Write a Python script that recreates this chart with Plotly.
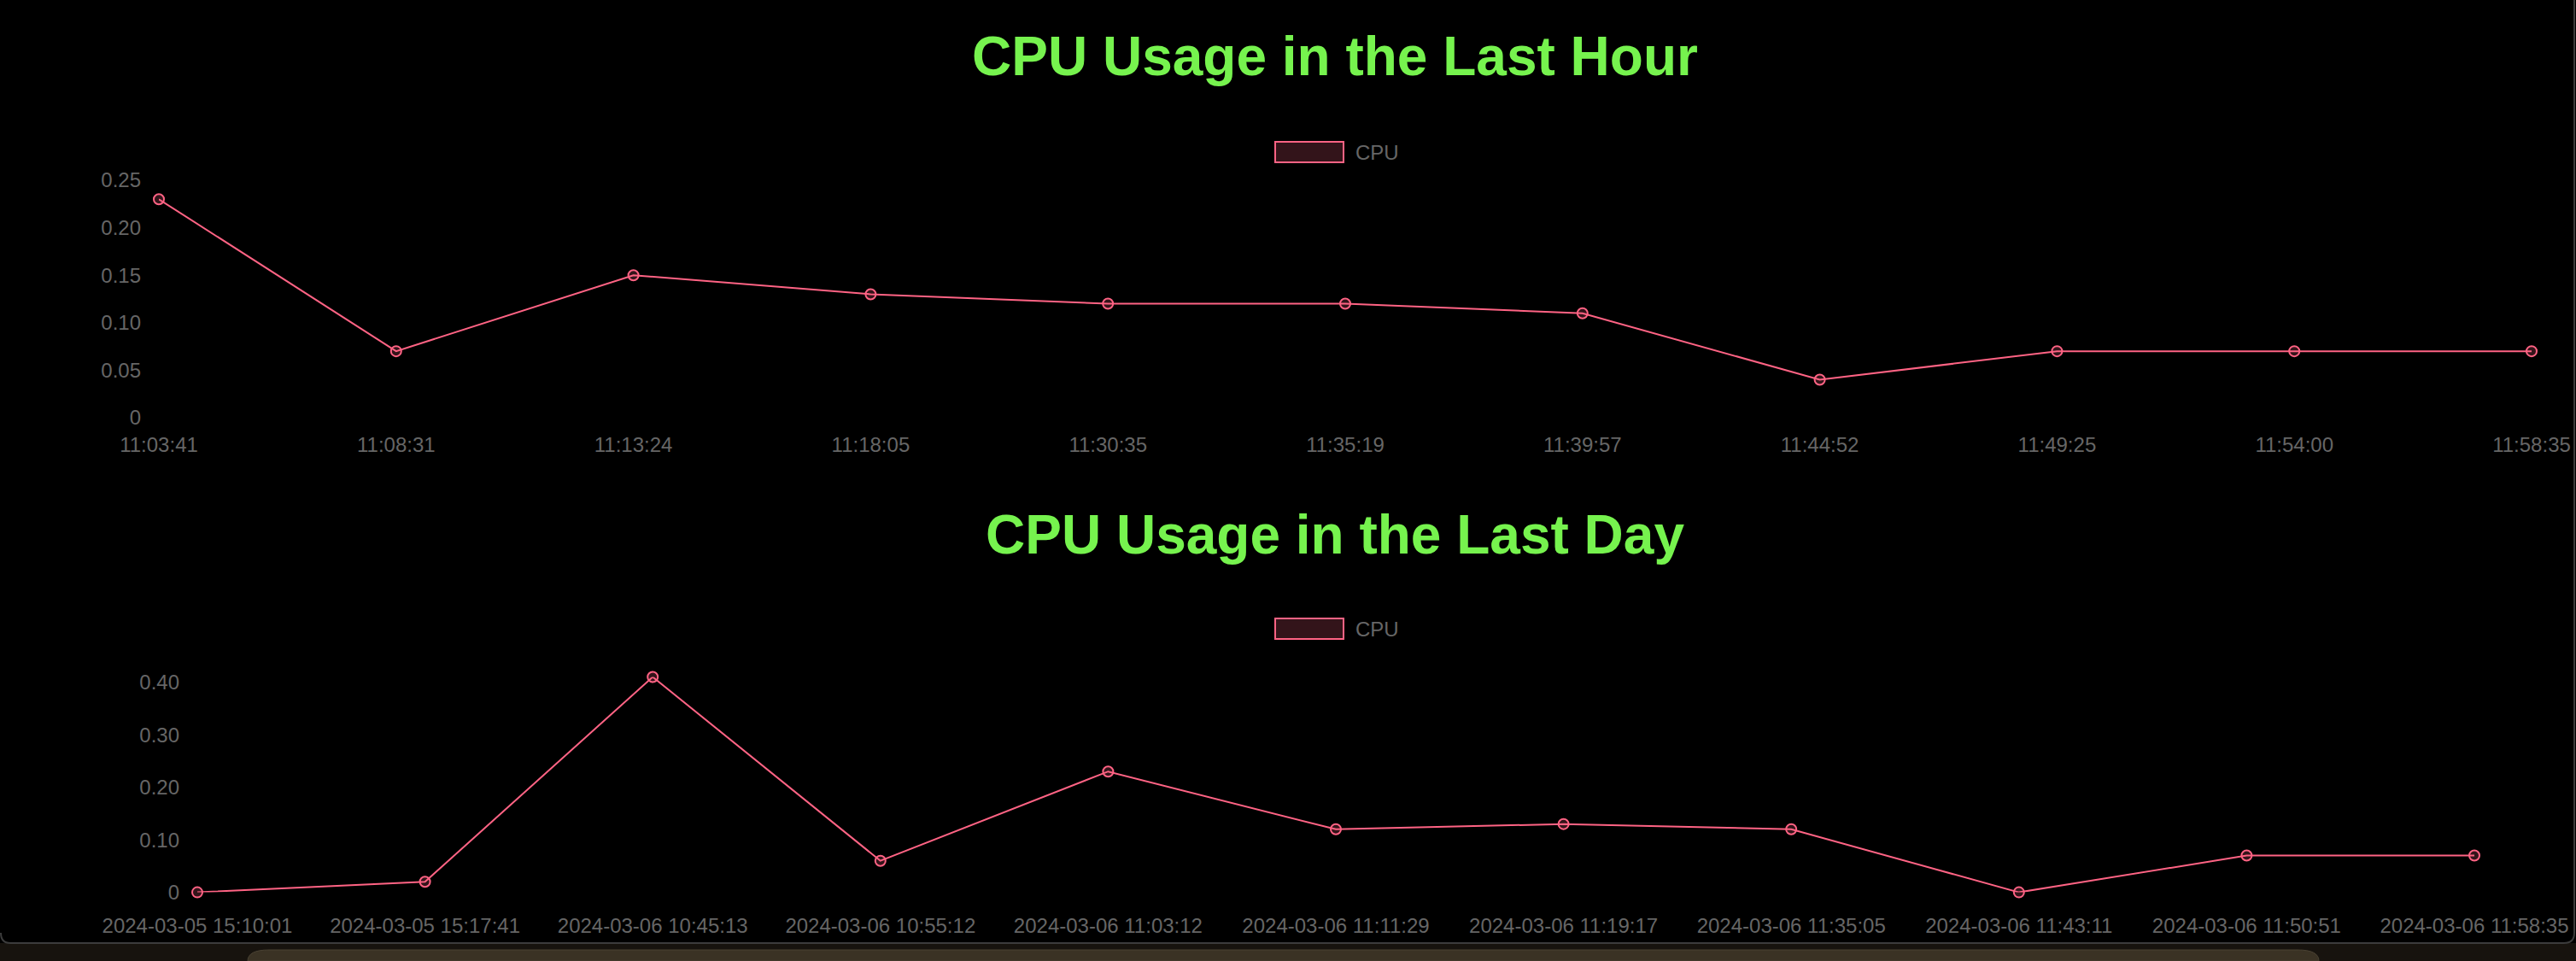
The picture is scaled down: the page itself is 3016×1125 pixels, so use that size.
import plotly.graph_objects as go

# ---------------- data ----------------
hour_labels = ["11:03:41", "11:08:31", "11:13:24", "11:18:05", "11:30:35", "11:35:19",
               "11:39:57", "11:44:52", "11:49:25", "11:54:00", "11:58:35"]
hour_cpu = [0.23, 0.07, 0.15, 0.13, 0.12, 0.12, 0.11, 0.04, 0.07, 0.07, 0.07]
hour_yticks = [0, 0.05, 0.10, 0.15, 0.20, 0.25]
hour_yticktext = ["0", "0.05", "0.10", "0.15", "0.20", "0.25"]

day_labels = ["2024-03-05 15:10:01", "2024-03-05 15:17:41", "2024-03-06 10:45:13",
              "2024-03-06 10:55:12", "2024-03-06 11:03:12", "2024-03-06 11:11:29",
              "2024-03-06 11:19:17", "2024-03-06 11:35:05", "2024-03-06 11:43:11",
              "2024-03-06 11:50:51", "2024-03-06 11:58:35"]
day_cpu = [0.0, 0.02, 0.41, 0.06, 0.23, 0.12, 0.13, 0.12, 0.0, 0.07, 0.07]
day_yticks = [0, 0.1, 0.2, 0.3, 0.4]
day_yticktext = ["0", "0.10", "0.20", "0.30", "0.40"]

series_name = "CPU"
titles = ["CPU Usage in the Last Hour", "CPU Usage in the Last Day"]

# ---------------- geometry helpers ----------------
W, H = 3016, 1125
def px(x):
    return x / W
def py(y):
    return 1 - y / H

LINE = "rgb(255,99,132)"
FILL = "rgba(255,99,132,0.2)"
TICK = "#666666"
GREEN = "#76F34E"
FONT = "Liberation Sans, Arial, Helvetica, sans-serif"

fig = go.Figure()

fig.add_trace(go.Scatter(
    x=hour_labels, y=hour_cpu, name=series_name, mode="lines+markers",
    line=dict(color=LINE, width=2),
    marker=dict(size=12, color=FILL, line=dict(color=LINE, width=2)),
    xaxis="x", yaxis="y", showlegend=False, cliponaxis=False))

fig.add_trace(go.Scatter(
    x=day_labels, y=day_cpu, name=series_name, mode="lines+markers",
    line=dict(color=LINE, width=2),
    marker=dict(size=12, color=FILL, line=dict(color=LINE, width=2)),
    xaxis="x2", yaxis="y2", showlegend=False, cliponaxis=False))

axis_common = dict(showgrid=False, zeroline=False, showline=False, ticks="",
                   automargin=False,
                   tickfont=dict(family=FONT, size=24, color=TICK), fixedrange=True)

fig.update_layout(
    width=W, height=H,
    margin=dict(l=0, r=0, t=0, b=0, pad=0),
    paper_bgcolor="black", plot_bgcolor="black",
    showlegend=False,
    xaxis=dict(**axis_common, type="category", domain=[px(186), px(2964)],
               range=[0, len(hour_labels) - 1], anchor="y", tickangle=0,
               ticklabelstandoff=15),
    yaxis=dict(**axis_common, domain=[py(489), py(211)], range=[0, 0.25],
               tickvals=hour_yticks, ticktext=hour_yticktext, anchor="x",
               ticklabelstandoff=20),
    xaxis2=dict(**axis_common, type="category", domain=[px(231), px(2897)],
                range=[0, len(day_labels) - 1], anchor="y2", tickangle=0,
                ticklabelstandoff=22),
    yaxis2=dict(**axis_common, domain=[py(1044.6), py(792.5)], range=[0, 0.41],
                tickvals=day_yticks, ticktext=day_yticktext, anchor="x2",
                ticklabelstandoff=20),
)

# titles
for t, yc in zip(titles, [66, 626]):
    fig.add_annotation(text=t, x=px(1563), y=py(yc), xref="paper", yref="paper",
                       xanchor="center", yanchor="middle", showarrow=False,
                       font=dict(family=FONT, size=64, color=GREEN, weight="bold"))

# legends (Chart.js style boxes)
for y0, y1 in [(166, 190), (724, 748)]:
    fig.add_shape(type="rect", xref="paper", yref="paper",
                  x0=px(1493), x1=px(1573), y0=py(y1), y1=py(y0),
                  line=dict(color=LINE, width=2), fillcolor=FILL, layer="above")
    fig.add_annotation(text=series_name, x=px(1585), y=py((y0 + y1) / 2),
                       xref="paper", yref="paper", xanchor="left", yanchor="middle",
                       showarrow=False, font=dict(family=FONT, size=24, color=TICK))

# page background below the card
fig.add_shape(type="rect", xref="paper", yref="paper", x0=0, x1=1, y0=0, y1=py(1104),
              fillcolor="#17130e", line=dict(width=0), layer="below")
# dock-like rounded shape
fig.add_shape(type="path", xref="paper", yref="paper", layer="below",
              path=(f"M {px(290)},{py(1125)} L {px(290)},{py(1125)} "
                    f"Q {px(290)},{py(1112)} {px(315)},{py(1112)} "
                    f"L {px(2690)},{py(1112)} Q {px(2715)},{py(1112)} {px(2715)},{py(1125)} Z"),
              fillcolor="#3a3224", line=dict(color="#4a4233", width=1))
# card border (right and bottom, rounded corners)
fig.add_shape(type="path", xref="paper", yref="paper", layer="above",
              path=(f"M {px(3014)},{py(0)} L {px(3014)},{py(1092)} "
                    f"Q {px(3014)},{py(1104)} {px(3002)},{py(1104)} "
                    f"L {px(12)},{py(1104)} Q {px(1)},{py(1104)} {px(1)},{py(1092)}"),
              line=dict(color="#3c3c3c", width=2))

fig.write_html("out.html")
